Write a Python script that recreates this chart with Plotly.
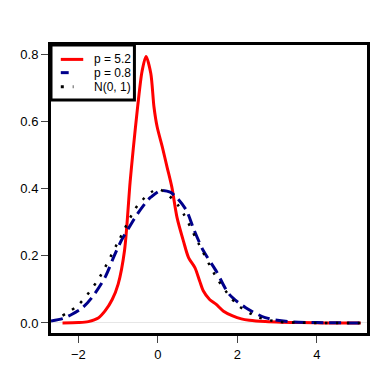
import plotly.graph_objects as go

# density estimates
x_p52 = [-2.40, -2.0, -1.75, -1.5, -1.33, -1.15, -1.0, -0.84, -0.70, -0.62, -0.51, -0.40,
         -0.30, -0.18, -0.10, -0.02, 0.11, 0.23, 0.35, 0.48, 0.64, 0.77, 0.93, 1.05, 1.14,
         1.3, 1.46, 1.65, 1.88, 2.1, 2.3, 2.7, 3.1, 3.6, 4.2, 5.1]
y_p52 = [0.0, 0.001, 0.004, 0.015, 0.036, 0.07, 0.116, 0.216, 0.42, 0.52, 0.645, 0.75,
         0.795, 0.745, 0.645, 0.585, 0.525, 0.465, 0.405, 0.315, 0.245, 0.195, 0.165, 0.125, 0.096,
         0.07, 0.056, 0.035, 0.021, 0.012, 0.008, 0.004, 0.002, 0.001, 0.0, 0.0]

x_p08 = [-2.69, -2.4, -2.16, -1.9, -1.66, -1.33, -1.1, -0.92, -0.7, -0.51, -0.3, -0.18,
         0.07, 0.31, 0.5, 0.72, 0.9, 1.14, 1.46, 1.79, 2.2, 2.7, 3.28, 4.0, 5.1]
y_p08 = [0.006, 0.013, 0.026, 0.045, 0.076, 0.136, 0.2, 0.246, 0.29, 0.326, 0.36, 0.375,
         0.395, 0.39, 0.37, 0.335, 0.28, 0.216, 0.156, 0.086, 0.046, 0.016, 0.004, 0.001, 0.0]

x_norm = [-2.4, -2.0, -1.5, -1.0, -0.5, 0.0, 0.5, 1.0, 1.5, 2.0, 2.5, 3.0, 3.5, 4.0, 4.5, 5.1]
y_norm = [0.022, 0.054, 0.13, 0.242, 0.352, 0.399, 0.352, 0.242, 0.13, 0.054, 0.018, 0.004,
          0.001, 0.0, 0.0, 0.0]

series_names = ['p = 5.2', 'p = 0.8', 'N(0, 1)']
series_colors = ['#ff0000', '#00008b', 'black']
series_dash = ['solid', '12px,6px', '2.5px,8.5px']
series_width = [3, 3, 2.5]

x_ticks = [-2, 0, 2, 4]
x_ticklabels = ['\u22122', '0', '2', '4']
y_ticks = [0.0, 0.2, 0.4, 0.6, 0.8]
y_ticklabels = ['0.0', '0.2', '0.4', '0.6', '0.8']

fig = go.Figure()

for xs, ys, name, col, dash, w in zip([x_p52, x_p08, x_norm], [y_p52, y_p08, y_norm],
                                      series_names, series_colors, series_dash, series_width):
    fig.add_trace(go.Scatter(
        x=xs, y=ys, mode='lines', name=name, showlegend=False,
        line=dict(color=col, width=w, dash=dash, shape='spline', smoothing=0.8)
    ))

# hand-made legend box in the top-left corner (R style)
fig.add_shape(type='rect', xref='paper', yref='paper', x0=0, x1=0.264, y0=0.809, y1=1.0,
              line=dict(color='black', width=3), fillcolor='white', layer='above')
legend_y = [0.950, 0.904, 0.855]
legend_x1 = [0.102, 0.056, 0.071]
legend_dash = ['solid', 'solid', '3px,9px']
for i, name in enumerate(series_names):
    fig.add_shape(type='line', xref='paper', yref='paper',
                  x0=0.031, x1=legend_x1[i], y0=legend_y[i], y1=legend_y[i],
                  line=dict(color=series_colors[i], width=3, dash=legend_dash[i]), layer='above')
    fig.add_annotation(x=0.130, y=legend_y[i], xref='paper', yref='paper', text=name,
                       showarrow=False, xanchor='left', yanchor='middle',
                       font=dict(size=12, color='black'))

axis_common = dict(
    showline=True, linecolor='black', linewidth=3, mirror=True,
    ticks='outside', ticklen=7, tickcolor='#444', tickwidth=1,
    showgrid=False, tickfont=dict(size=13, color='black'),
)

fig.update_layout(
    width=374, height=374,
    margin=dict(l=37, r=15, t=37, b=49),
    paper_bgcolor='white', plot_bgcolor='white',
    font=dict(family='Liberation Sans, Arial, sans-serif', color='black'),
    xaxis=dict(range=[-2.69, 5.26], tickvals=x_ticks, ticktext=x_ticklabels,
               zeroline=False, **axis_common),
    yaxis=dict(range=[-0.03, 0.829], tickvals=y_ticks, ticktext=y_ticklabels,
               zeroline=True, zerolinecolor='#e6e6e6', zerolinewidth=1, **axis_common),
    showlegend=False,
)

fig.write_html("out.html")
